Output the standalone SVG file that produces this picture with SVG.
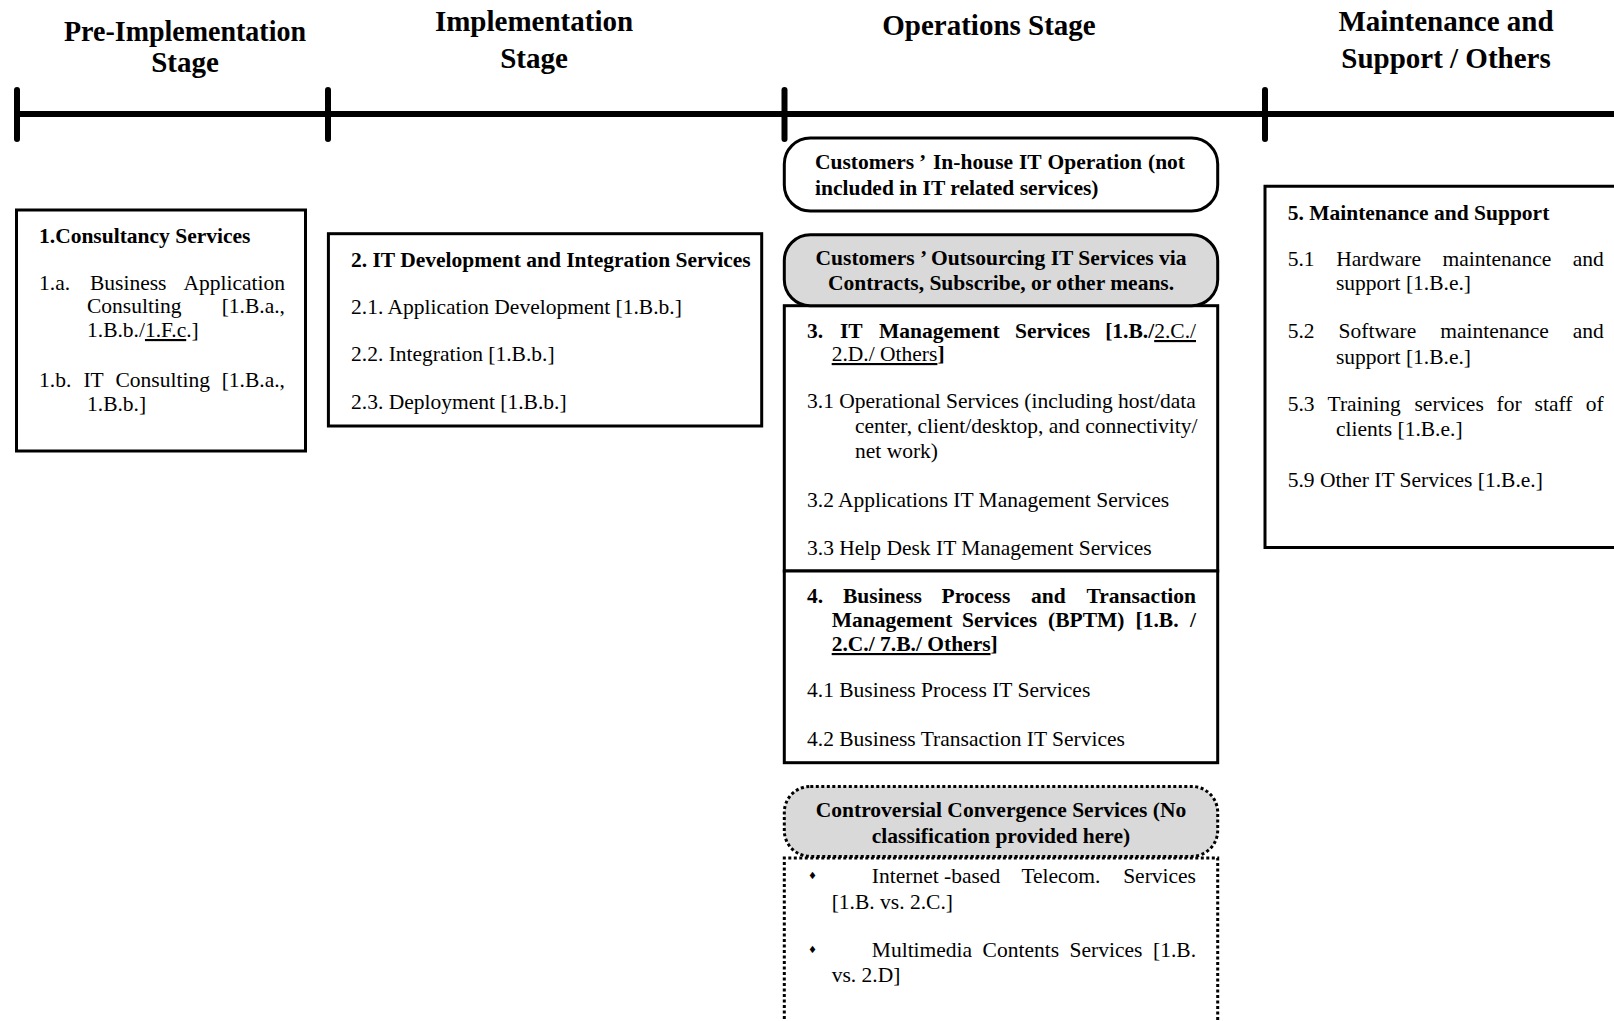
<svg xmlns="http://www.w3.org/2000/svg" width="1614" height="1021" viewBox="0 0 1614 1021">
<style>
text{font-family:"Liberation Serif","Times New Roman",serif;fill:#000}
.h{font-size:29px;font-weight:bold;text-anchor:middle}
.t{font-size:21.5px}
.b{font-weight:bold}
.c{text-anchor:middle}
.e{text-anchor:end}
.u{text-decoration:underline}
.box{fill:#fff;stroke:#000;stroke-width:3}
.gray{fill:#d9d9d9}
.dot{fill:none;stroke:#000;stroke-width:3;stroke-dasharray:3 2.5}
.axis{stroke:#000;stroke-width:6;stroke-linecap:round;fill:none}
.bul{font-family:"DejaVu Sans",sans-serif;font-size:10px}
</style>

<g id="headers">
<text class="h" x="185" y="41" textLength="242" lengthAdjust="spacingAndGlyphs">Pre-Implementation</text>
<text class="h" x="185" y="72">Stage</text>
<text class="h" x="534" y="31">Implementation</text>
<text class="h" x="534" y="68">Stage</text>
<text class="h" x="989" y="35">Operations Stage</text>
<text class="h" x="1446" y="31">Maintenance and</text>
<text class="h" x="1446" y="68">Support / Others</text>
</g>

<g id="timeline">
<line class="axis" x1="17" y1="114" x2="1620" y2="114" style="stroke-linecap:butt"/>
<line class="axis" x1="17" y1="90" x2="17" y2="139"/>
<line class="axis" x1="328" y1="90" x2="328" y2="139"/>
<line class="axis" x1="784.5" y1="90" x2="784.5" y2="139"/>
<line class="axis" x1="1265" y1="90" x2="1265" y2="139"/>
</g>

<g id="connectors"></g>

<g id="consultancy">
<rect class="box" x="16.5" y="210" width="289" height="241"/>
<text class="t b" x="39" y="243">1.Consultancy Services</text>
<text class="t" x="39" y="290">1.a.</text>
<text class="t" x="90" y="290">Business</text>
<text class="t e" x="285" y="290">Application</text>
<text class="t" x="87" y="313">Consulting</text>
<text class="t e" x="285" y="313">[1.B.a.,</text>
<text class="t" x="87" y="337">1.B.b./<tspan class="u">1.F.c</tspan>.]</text>
<text class="t" x="39" y="387">1.b.</text>
<text class="t" x="83.4" y="387">IT</text>
<text class="t" x="115.5" y="387">Consulting</text>
<text class="t e" x="285" y="387">[1.B.a.,</text>
<text class="t" x="87" y="411">1.B.b.]</text>
</g>

<g id="itdev">
<rect class="box" x="328.4" y="233.7" width="433.3" height="192.3"/>
<text class="t b" x="351" y="267">2. IT Development and Integration Services</text>
<text class="t" x="351" y="314">2.1. Application Development [1.B.b.]</text>
<text class="t" x="351" y="361">2.2. Integration [1.B.b.]</text>
<text class="t" x="351" y="409">2.3. Deployment [1.B.b.]</text>
</g>

<g id="itmanagement">
<rect class="box" x="784.3" y="305.7" width="433.4" height="265.3"/>
<text class="t b" y="338"><tspan x="807">3.</tspan><tspan x="840">IT</tspan><tspan x="879">Management</tspan><tspan x="1015">Services</tspan></text>
<text class="t e" x="1196" y="338"><tspan class="b">[1.B./</tspan><tspan class="u">2.C./</tspan></text>
<text class="t" x="831.7" y="361"><tspan class="u">2.D./ Others</tspan><tspan class="b">]</tspan></text>
<text class="t" x="807" y="408">3.1 Operational Services (including host/data</text>
<text class="t" x="855" y="433">center, client/desktop, and connectivity/</text>
<text class="t" x="855" y="458">net work)</text>
<text class="t" x="807" y="507">3.2 Applications IT Management Services</text>
<text class="t" x="807" y="555">3.3 Help Desk IT Management Services</text>
</g>

<g id="bptm">
<rect class="box" x="784.3" y="571" width="433.4" height="191.7"/>
<text class="t b" y="603"><tspan x="807">4.</tspan><tspan x="843">Business</tspan><tspan x="941.5">Process</tspan><tspan x="1031">and</tspan></text>
<text class="t b e" x="1196" y="603">Transaction</text>
<text class="t b" y="627"><tspan x="831.7">Management</tspan><tspan x="962">Services</tspan><tspan x="1048">(BPTM)</tspan><tspan x="1135.5">[1.B.</tspan></text>
<text class="t b e" x="1196" y="627">/</text>
<text class="t b" x="831.7" y="651"><tspan class="u">2.C./ 7.B./ Others</tspan>]</text>
<text class="t" x="807" y="697">4.1 Business Process IT Services</text>
<text class="t" x="807" y="746">4.2 Business Transaction IT Services</text>
</g>

<g id="inhouse">
<rect class="box" x="784.3" y="138" width="433.4" height="73" rx="26"/>
<text class="t b" y="169"><tspan x="815">Customers</tspan><tspan x="919">’</tspan><tspan x="933">In-house</tspan><tspan x="1019">IT</tspan><tspan x="1047.6">Operation</tspan></text>
<text class="t b e" x="1185" y="169">(not</text>
<text class="t b" x="815" y="195">included in IT related services)</text>
</g>

<g id="outsourcing">
<rect class="box gray" x="784.3" y="234.7" width="433.4" height="71" rx="26"/>
<text class="t b c" x="1001" y="265">Customers ’ Outsourcing IT Services via</text>
<text class="t b c" x="1001" y="290">Contracts, Subscribe, or other means.</text>
</g>

<g id="convergence-list">
<path class="dot" d="M784.3,1030 V858 H1217.7 V1030"/>
<text class="bul" x="808" y="879">♦</text>
<text class="t" y="883"><tspan x="871.8">Internet -based</tspan><tspan x="1021.4">Telecom.</tspan></text>
<text class="t e" x="1196" y="883">Services</text>
<text class="t" x="831.7" y="909">[1.B. vs. 2.C.]</text>
<text class="bul" x="808" y="953">♦</text>
<text class="t" y="957"><tspan x="871.8">Multimedia</tspan><tspan x="982.6">Contents</tspan><tspan x="1069.6">Services</tspan></text>
<text class="t e" x="1196" y="957">[1.B.</text>
<text class="t" x="831.7" y="982">vs. 2.D]</text>
</g>

<g id="convergence">
<rect class="dot" x="784.3" y="786.4" width="433.4" height="70" rx="26" style="fill:#d9d9d9"/>
<text class="t b c" x="1001" y="817">Controversial Convergence Services  (No</text>
<text class="t b c" x="1001" y="843">classification provided here)</text>
</g>

<g id="maintenance">
<path d="M1625,186.3 H1265 V547.6 H1625" style="fill:#fff;stroke:#000;stroke-width:3"/>
<text class="t b" x="1287.7" y="219.5">5. Maintenance and Support</text>
<text class="t" y="266"><tspan x="1287.7">5.1</tspan><tspan x="1336.2">Hardware</tspan><tspan x="1442.6">maintenance</tspan></text>
<text class="t e" x="1603.7" y="266">and</text>
<text class="t" x="1336" y="289.5">support [1.B.e.]</text>
<text class="t" y="338"><tspan x="1287.7">5.2</tspan><tspan x="1338.6">Software</tspan><tspan x="1440.2">maintenance</tspan></text>
<text class="t e" x="1603.7" y="338">and</text>
<text class="t" x="1336" y="363.5">support [1.B.e.]</text>
<text class="t" y="411"><tspan x="1287.7">5.3</tspan><tspan x="1327.5">Training</tspan><tspan x="1414.5">services</tspan><tspan x="1496.6">for</tspan><tspan x="1534.6">staff</tspan></text>
<text class="t e" x="1603.7" y="411">of</text>
<text class="t" x="1336" y="435.7">clients [1.B.e.]</text>
<text class="t" x="1287.7" y="487">5.9 Other IT Services [1.B.e.]</text>
</g>
</svg>
